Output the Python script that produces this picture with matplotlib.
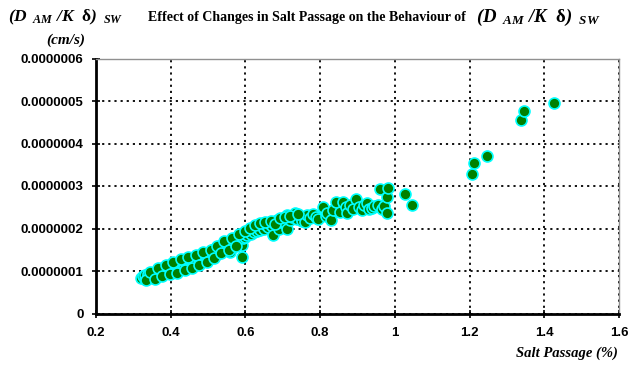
import matplotlib
matplotlib.use("Agg")
import matplotlib.pyplot as plt
import numpy as np

# Salt passage (%)
salt_passage = [
    0.320, 0.325, 0.330, 0.332, 0.338, 0.340, 0.343, 0.347, 0.350, 0.352,
    0.355, 0.358, 0.360, 0.362, 0.365, 0.368, 0.370, 0.372, 0.375, 0.378,
    0.380, 0.383, 0.385, 0.388, 0.390, 0.392, 0.395, 0.398, 0.400, 0.400,
    0.403, 0.405, 0.408, 0.410, 0.413, 0.415, 0.418, 0.420, 0.423, 0.425,
    0.428, 0.430, 0.433, 0.436, 0.440, 0.442, 0.445, 0.448, 0.450, 0.453,
    0.456, 0.460, 0.462, 0.465, 0.468, 0.472, 0.475, 0.478, 0.482, 0.485,
    0.488, 0.492, 0.495, 0.498,
    0.502, 0.505, 0.510, 0.513, 0.517, 0.520, 0.521, 0.525, 0.528, 0.533,
    0.537, 0.540, 0.545, 0.548, 0.552, 0.556, 0.559, 0.560, 0.565, 0.568,
    0.572, 0.576, 0.580, 0.584, 0.588, 0.592, 0.592, 0.594, 0.595, 0.598,
    0.602, 0.605, 0.610, 0.614, 0.618, 0.622, 0.627, 0.631, 0.636, 0.640,
    0.645, 0.650, 0.655, 0.660, 0.665, 0.670, 0.675, 0.676, 0.684, 0.688,
    0.690, 0.695, 0.700,
    0.706, 0.710, 0.712, 0.718, 0.725, 0.733, 0.738, 0.745, 0.752, 0.760,
    0.765, 0.772, 0.782, 0.788, 0.795,
    0.808, 0.815, 0.819, 0.830, 0.835, 0.842, 0.853, 0.862, 0.870, 0.873,
    0.880, 0.887, 0.896, 0.905, 0.911, 0.918, 0.925, 0.932, 0.938, 0.945,
    0.956, 0.960, 0.965, 0.970, 0.978, 0.980, 0.982,
    1.026, 1.047, 1.206, 1.213, 1.247, 1.338, 1.346, 1.426,
    0.335, 0.345, 0.357, 0.366, 0.377, 0.387, 0.397, 0.407, 0.417, 0.427,
    0.437, 0.447, 0.457, 0.467, 0.477, 0.487, 0.497, 0.507, 0.515, 0.523,
    0.535, 0.543, 0.555, 0.563, 0.575, 0.583, 0.600, 0.612, 0.625, 0.638,
    0.652, 0.668, 0.680, 0.692, 0.705, 0.720, 0.740,
]

# (D_AM / K delta)_SW in units of 1e-7 cm/s
dam_kdelta_e7 = [
    0.84, 0.88, 0.82, 0.90, 0.86, 0.93, 0.84, 0.88, 0.95, 0.91,
    0.86, 0.98, 0.93, 0.89, 1.00, 0.95, 0.91, 1.03, 0.97, 1.06,
    0.93, 1.01, 1.08, 0.97, 1.04, 1.12, 1.00, 1.07, 1.14, 0.96,
    1.10, 1.03, 1.17, 1.08, 1.13, 1.00, 1.20, 1.11, 1.16, 1.06,
    1.23, 1.14, 1.19, 1.10, 1.25, 1.17, 1.21, 1.13, 1.28, 1.20,
    1.24, 1.16, 1.31, 1.26, 1.21, 1.34, 1.28, 1.23, 1.37, 1.31,
    1.27, 1.40, 1.34, 1.30,
    1.44, 1.37, 1.47, 1.40, 1.52, 1.44, 1.38, 1.55, 1.48, 1.58,
    1.51, 1.62, 1.55, 1.66, 1.59, 1.69, 1.45, 1.63, 1.73, 1.66,
    1.77, 1.70, 1.80, 1.74, 1.84, 1.34, 1.61, 1.77, 1.87, 1.80,
    1.90, 1.84, 1.93, 1.87, 1.97, 1.91, 2.00, 1.94, 2.03, 1.97,
    2.06, 2.00, 2.09, 2.03, 2.11, 2.05, 1.85, 2.14, 2.20, 2.08,
    2.00, 2.16, 2.22,
    2.12, 2.32, 1.98, 2.19, 2.26, 2.36, 2.22, 2.29, 2.18, 2.16,
    2.31, 2.25, 2.33, 2.28, 2.22,
    2.51, 2.30, 2.37, 2.20, 2.44, 2.63, 2.40, 2.63, 2.50, 2.37,
    2.55, 2.45, 2.69, 2.50, 2.44, 2.55, 2.59, 2.47, 2.48, 2.52,
    2.55, 2.92, 2.47, 2.53, 2.75, 2.37, 2.95,
    2.82, 2.55, 3.28, 3.53, 3.71, 4.55, 4.76, 4.96,
    0.80, 0.98, 0.82, 1.06, 0.88, 1.14, 0.92, 1.22, 0.96, 1.28,
    1.02, 1.33, 1.08, 1.38, 1.15, 1.44, 1.22, 1.50, 1.30, 1.60,
    1.42, 1.70, 1.50, 1.78, 1.60, 1.88, 1.95, 2.02, 2.08, 2.12,
    2.15, 2.18, 2.10, 2.25, 2.28, 2.30, 2.34,
]

x_ticks = [0.2, 0.4, 0.6, 0.8, 1.0, 1.2, 1.4, 1.6]
x_tick_labels = ["0.2", "0.4", "0.6", "0.8", "1", "1.2", "1.4", "1.6"]
y_ticks_e7 = [0, 1, 2, 3, 4, 5, 6]
y_tick_labels = ["0", "0.0000001", "0.0000002", "0.0000003", "0.0000004",
                 "0.0000005", "0.0000006"]

plt.rcParams['mathtext.fontset'] = 'custom'
plt.rcParams['mathtext.rm'] = 'Liberation Serif:bold:italic'
plt.rcParams['mathtext.it'] = 'Liberation Serif:bold:italic'
plt.rcParams['mathtext.bf'] = 'Liberation Serif:bold'

fig = plt.figure(figsize=(6.28, 3.65), dpi=100)
ax = fig.add_axes([96/628, 1-313.5/365, (619-96)/628, (313.5-58.5)/365])

x = np.array(salt_passage)
y = np.array(dam_kdelta_e7) * 1e-7
ax.scatter(x, y, s=62, c='#008000', edgecolors='#00FFFF', linewidths=1.2, zorder=3)

ax.set_xlim(0.2, 1.6)
ax.set_ylim(0, 6e-7)
ax.set_xticks(x_ticks)
ax.set_xticklabels(x_tick_labels)
ax.set_yticks(np.array(y_ticks_e7) * 1e-7)
ax.set_yticklabels(y_tick_labels)

for lab in ax.get_xticklabels() + ax.get_yticklabels():
    lab.set_fontfamily('Liberation Sans')
    lab.set_fontweight('bold')
    lab.set_fontsize(9.5)

ax.tick_params(axis='both', direction='inout', length=6, width=1.2, color='black')
ax.tick_params(axis='x', pad=7)
ax.tick_params(axis='y', pad=6)
ax.grid(True, color='black', linestyle=(0, (1.2, 2.2)), linewidth=1.3, zorder=1)
ax.set_axisbelow(True)

for side in ['left', 'bottom']:
    ax.spines[side].set_color('black')
    ax.spines[side].set_linewidth(2)
for side in ['top', 'right']:
    ax.spines[side].set_color('#909090')
    ax.spines[side].set_linestyle((0, (2, 1)))
    ax.spines[side].set_linewidth(1)

math_label = r"$(D_{\ \ AM}\ /K\ \ \mathbf{\delta})_{\ \ SW}$"
fig.text(148/628, 1-17/365,
         "Effect of Changes in Salt Passage on the Behaviour of",
         family='Liberation Serif', fontweight='bold', fontsize=10, va='center', ha='left')
fig.text(476/628, 1-17/365, math_label,
         family='Liberation Serif', fontweight='bold', fontsize=13.5, va='center', ha='left')
fig.text(8/628, 1-17/365, math_label,
         family='Liberation Serif', fontweight='bold', fontsize=12.5, va='center', ha='left')
fig.text(66/628, 1-40/365, "(cm/s)", family='Liberation Serif', fontweight='bold',
         style='italic', fontsize=11, va='center', ha='center')
fig.text(618/628, 1-353/365, "Salt Passage (%)", family='Liberation Serif',
         fontweight='bold', style='italic', fontsize=10.5, va='center', ha='right')

fig.savefig("out.png", dpi=100)
